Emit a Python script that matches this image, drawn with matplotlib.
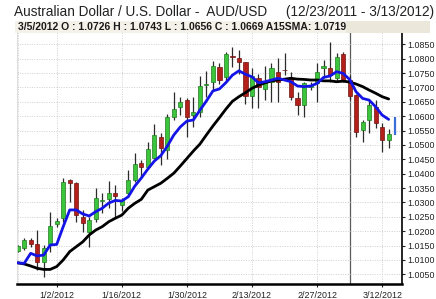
import numpy as np
import pandas as pd
import matplotlib
matplotlib.use("Agg")
import matplotlib.pyplot as plt
from matplotlib.patches import Rectangle

plt.rcParams['font.family'] = ['Liberation Sans', 'DejaVu Sans']

# trading days shown (last one is the live bar)
dates = pd.bdate_range('2011-12-23', '2012-03-14')

opens = [1.0132, 1.0142, 1.0169, 1.0154, 1.0094, 1.0154, 1.0225, 1.0245, 1.0378, 1.0369,
         1.0250, 1.0198, 1.0242, 1.0306, 1.0311, 1.0334, 1.0291, 1.0332, 1.0378, 1.0436,
         1.0424, 1.0456, 1.0529, 1.0482, 1.0598, 1.0633, 1.0656, 1.0604, 1.0614, 1.0709,
         1.0719, 1.0772, 1.0735, 1.0810, 1.0801, 1.0787, 1.0670, 1.0732, 1.0694, 1.0720,
         1.0755, 1.0762, 1.0732, 1.0662, 1.0639, 1.0703, 1.0714, 1.0767, 1.0769, 1.0732,
         1.0816, 1.0726, 1.0674, 1.0552, 1.0587, 1.0633, 1.0561, 1.0517]
highs = [1.0152, 1.0176, 1.0175, 1.0204, 1.0152, 1.0268, 1.0245, 1.0384, 1.0380, 1.0372,
         1.0274, 1.0250, 1.0349, 1.0332, 1.0376, 1.0361, 1.0315, 1.0413, 1.0471, 1.0448,
         1.0510, 1.0574, 1.0540, 1.0608, 1.0685, 1.0668, 1.0662, 1.0668, 1.0741, 1.0757,
         1.0792, 1.0785, 1.0824, 1.0842, 1.0830, 1.0790, 1.0768, 1.0747, 1.0775, 1.0784,
         1.0801, 1.0819, 1.0755, 1.0685, 1.0720, 1.0720, 1.0784, 1.0795, 1.0857, 1.0820,
         1.0823, 1.0743, 1.0676, 1.0587, 1.0656, 1.0656, 1.0575, 1.0555]
lows = [1.0128, 1.0135, 1.0146, 1.0066, 1.0042, 1.0129, 1.0216, 1.0233, 1.0303, 1.0233,
        1.0198, 1.0146, 1.0233, 1.0262, 1.0280, 1.0246, 1.0270, 1.0320, 1.0372, 1.0390,
        1.0415, 1.0450, 1.0430, 1.0450, 1.0588, 1.0604, 1.0529, 1.0563, 1.0598, 1.0668,
        1.0691, 1.0712, 1.0719, 1.0772, 1.0747, 1.0642, 1.0628, 1.0628, 1.0656, 1.0650,
        1.0650, 1.0743, 1.0656, 1.0604, 1.0598, 1.0690, 1.0650, 1.0733, 1.0720, 1.0722,
        1.0719, 1.0656, 1.0528, 1.0511, 1.0540, 1.0559, 1.0476, 1.0488]
closes = [1.0148, 1.0168, 1.0154, 1.0094, 1.0141, 1.0218, 1.0237, 1.0372, 1.0369, 1.0256,
          1.0227, 1.0239, 1.0314, 1.0310, 1.0334, 1.0322, 1.0308, 1.0378, 1.0434, 1.0424,
          1.0487, 1.0534, 1.0488, 1.0598, 1.0625, 1.0650, 1.0598, 1.0616, 1.0706, 1.0712,
          1.0775, 1.0726, 1.0815, 1.0805, 1.0789, 1.0670, 1.0740, 1.0703, 1.0719, 1.0767,
          1.0720, 1.0760, 1.0668, 1.0639, 1.0714, 1.0708, 1.0755, 1.0776, 1.0743, 1.0807,
          1.0726, 1.0669, 1.0546, 1.0579, 1.0639, 1.0575, 1.0517, 1.0538]

# live bar for the last day
live_low, live_high = 1.0535, 1.0596

ma_fast = [1.0090, 1.0088, 1.0123, 1.0114, 1.0117, 1.0152, 1.0154, 1.0216, 1.0274, 1.0274,
           1.0260, 1.0253, 1.0268, 1.0280, 1.0298, 1.0307, 1.0305, 1.0320, 1.0357, 1.0385,
           1.0416, 1.0444, 1.0463, 1.0496, 1.0535, 1.0563, 1.0583, 1.0587, 1.0621, 1.0653,
           1.0688, 1.0695, 1.0717, 1.0743, 1.0758, 1.0746, 1.0737, 1.0716, 1.0720, 1.0726,
           1.0732, 1.0726, 1.0720, 1.0705, 1.0703, 1.0705, 1.0714, 1.0735, 1.0740, 1.0755,
           1.0749, 1.0728, 1.0685, 1.0662, 1.0656, 1.0633, 1.0604, 1.0589]
ma_slow = [1.0090, 1.0086, 1.0079, 1.0071, 1.0067, 1.0067, 1.0077, 1.0100, 1.0129, 1.0146,
           1.0163, 1.0187, 1.0204, 1.0216, 1.0233, 1.0245, 1.0256, 1.0280, 1.0297, 1.0311,
           1.0343, 1.0355, 1.0367, 1.0384, 1.0402, 1.0427, 1.0453, 1.0479, 1.0503, 1.0535,
           1.0566, 1.0595, 1.0625, 1.0652, 1.0668, 1.0682, 1.0697, 1.0708, 1.0716, 1.0723,
           1.0726, 1.0729, 1.0732, 1.0729, 1.0728, 1.0726, 1.0726, 1.0723, 1.0723, 1.0720,
           1.0722, 1.0719, 1.0712, 1.0703, 1.0691, 1.0680, 1.0668, 1.0660]

tick_dates = ['2012-01-02', '2012-01-16', '2012-01-30', '2012-02-13', '2012-02-27', '2012-03-12']
tick_labels = ['1/2/2012', '1/16/2012', '1/30/2012', '2/13/2012', '2/27/2012', '3/12/2012']
price_ticks = [1.0050, 1.0100, 1.0150, 1.0200, 1.0250, 1.0300, 1.0350, 1.0400, 1.0450,
               1.0500, 1.0550, 1.0600, 1.0650, 1.0700, 1.0750, 1.0800, 1.0850]
selected_day = '2012-03-05'

W, H = 436, 299
fig = plt.figure(figsize=(W / 100, H / 100), dpi=100)
ax = fig.add_axes([17 / W, 1 - 284 / H, (402 - 17) / W, (284 - 32) / H])

x = np.arange(len(opens))
pos = {d.strftime('%Y-%m-%d'): i for i, d in enumerate(dates)}

# candles
for i in x:
    o, h, l, c = opens[i], highs[i], lows[i], closes[i]
    up = c >= o
    face = '#3cc43c' if up else '#b3201c'
    edge = '#1f7a1f' if up else '#6e1410'
    ax.vlines(i, l, h, color='#2b2b2b', lw=0.9, zorder=2)
    ax.bar(i, max(abs(c - o), 0.00025), bottom=min(o, c), width=0.64,
           color=face, edgecolor=edge, lw=0.5, zorder=2.5)
ax.vlines(len(opens), live_low, live_high, color='#3a6fd8', lw=1.6, zorder=2)

ax.plot(x, ma_slow, color='black', lw=2.0, solid_capstyle='round', zorder=3)
ax.plot(x, ma_fast, color='#1414e6', lw=2.0, solid_capstyle='round', zorder=3.5)

ax.axvline(pos[selected_day], color='#5a5a5a', lw=0.9, zorder=1.5)

ax.set_xlim(-0.1, 59.05)
ax.set_ylim(1.00163, 1.0893)

ax.set_xticks([pos[d] for d in tick_dates])
ax.set_xticklabels(tick_labels)
ax.yaxis.tick_right()
ax.set_yticks(price_ticks)
ax.set_yticklabels([f'{v:.4f}' for v in price_ticks])
ax.tick_params(axis='y', length=2, pad=2, labelsize=6.4, colors='#222222')
ax.tick_params(axis='x', length=2, pad=3, labelsize=6.4, colors='#222222')

ax.grid(True, linestyle=(0, (1, 1.5)), color='#cfcfcf', lw=0.7, zorder=0)
ax.axvline(0, color='#d0d0d0', lw=0.7, ls=(0, (1, 1.5)), zorder=0)

ax.spines['top'].set_visible(False)
ax.spines['left'].set_color('#d8d8d8')
ax.spines['left'].set_linewidth(0.6)
ax.spines['right'].set_color('black')
ax.spines['right'].set_linewidth(1.2)
ax.spines['bottom'].set_color('black')
ax.spines['bottom'].set_linewidth(1.8)

fig.text(14 / W, 1 - 12 / H,
         'Australian Dollar / U.S. Dollar -  AUD/USD     (12/23/2011 - 3/13/2012)',
         fontsize=9.8, va='center', ha='left', color='#222222')

# header strip with the selected bar's values
k = pos[selected_day]
fig.add_artist(Rectangle((15 / W, 1 - 33 / H), (430 - 15) / W, 12 / H,
                         transform=fig.transFigure, facecolor='#ebe8db',
                         edgecolor='none', zorder=5))
fig.add_artist(Rectangle((15 / W, 1 - 33 / H), (346 - 15) / W, 12 / H,
                         transform=fig.transFigure, facecolor='#f3f1e8',
                         edgecolor='none', zorder=5))
d = dates[k]
header = (f'{d.month}/{d.day}/{d.year} O : {opens[k]:.4f} H : {highs[k]:.4f} '
          f'L : {lows[k]:.4f} C : {closes[k]:.4f} A15SMA: {ma_slow[k]:.4f}')
fig.text(18 / W, 1 - 27.3 / H, header, fontsize=7.5, fontweight='bold',
         va='center', ha='left', color='#1a1a1a', zorder=6)

fig.savefig('out.png', dpi=100)
